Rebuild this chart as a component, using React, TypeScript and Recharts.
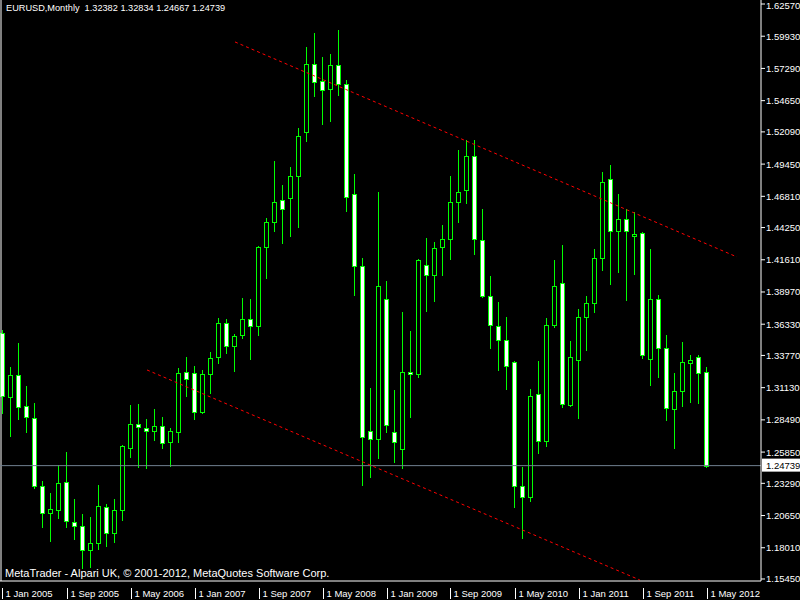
import React from 'react';
import { ComposedChart, Bar, XAxis, YAxis, ReferenceLine } from 'recharts';

// EURUSD monthly candles, Jan 2005 .. May 2012
const OPEN = [
  1.3558, 1.3039, 1.3217, 1.2963, 1.2868, 1.2307, 1.2083, 1.2110, 1.2337, 1.2012, 1.1977, 1.1783,
  1.1838, 1.2137, 1.1919, 1.2108, 1.2621, 1.2813, 1.2780, 1.2760, 1.2796, 1.2670, 1.2752, 1.3239,
  1.3230, 1.2917, 1.3222, 1.3367, 1.3640, 1.3452, 1.3542, 1.3673, 1.3621, 1.4268, 1.4468, 1.4648,
  1.4665, 1.4845, 1.5206, 1.5763, 1.5624, 1.5558, 1.5755, 1.5599, 1.4698, 1.4107, 1.2760, 1.2690,
  1.3837, 1.2747, 1.2608, 1.3239, 1.3222, 1.4121, 1.4034, 1.4263, 1.4329, 1.4632, 1.4730, 1.5009,
  1.4321, 1.3862, 1.3616, 1.3501, 1.3321, 1.2305, 1.2219, 1.3059, 1.2678, 1.3624, 1.3968, 1.2973,
  1.3337, 1.3690, 1.3804, 1.4173, 1.4820, 1.4397, 1.4493, 1.4353, 1.4378, 1.3345, 1.3837, 1.3436,
  1.2941, 1.3083, 1.3318, 1.3362, 1.32382,
];
const HIGH = [
  1.3585, 1.3285, 1.3481, 1.3127, 1.2990, 1.2346, 1.2250, 1.2479, 1.2583, 1.2200, 1.2078, 1.2053,
  1.2315, 1.2160, 1.2198, 1.2640, 1.2971, 1.2979, 1.2856, 1.2938, 1.2873, 1.2780, 1.3277, 1.3364,
  1.3290, 1.3258, 1.3403, 1.3681, 1.3673, 1.3550, 1.3848, 1.3840, 1.4274, 1.4501, 1.4970, 1.4774,
  1.4921, 1.5241, 1.5902, 1.6017, 1.5820, 1.5845, 1.6041, 1.5632, 1.4864, 1.4175, 1.3108, 1.4714,
  1.3987, 1.3094, 1.3733, 1.3577, 1.4167, 1.4339, 1.4307, 1.4446, 1.4847, 1.5061, 1.5142, 1.5142,
  1.4577, 1.4028, 1.3815, 1.3692, 1.3329, 1.2463, 1.3102, 1.3331, 1.3684, 1.4159, 1.4282, 1.3495,
  1.3758, 1.3864, 1.4249, 1.4878, 1.4938, 1.4700, 1.4575, 1.4550, 1.4390, 1.4249, 1.3872, 1.3545,
  1.3233, 1.3487, 1.3381, 1.3381, 1.32834,
];
const LOW = [
  1.2908, 1.2717, 1.2854, 1.2752, 1.2288, 1.1974, 1.1859, 1.2045, 1.1969, 1.1870, 1.1633, 1.1646,
  1.1788, 1.1815, 1.1851, 1.2028, 1.2547, 1.2465, 1.2452, 1.2684, 1.2621, 1.2471, 1.2670, 1.3045,
  1.2856, 1.2908, 1.3067, 1.3313, 1.3400, 1.3252, 1.3522, 1.3348, 1.3545, 1.4010, 1.4399, 1.4301,
  1.4358, 1.4432, 1.5137, 1.5506, 1.5276, 1.5301, 1.5514, 1.4563, 1.3875, 1.2315, 1.2383, 1.2539,
  1.2752, 1.2507, 1.2452, 1.2875, 1.3203, 1.3744, 1.3823, 1.4036, 1.4170, 1.4473, 1.4624, 1.4211,
  1.3858, 1.3438, 1.3260, 1.3104, 1.2137, 1.1880, 1.2184, 1.2580, 1.2637, 1.3612, 1.2957, 1.2963,
  1.2867, 1.3424, 1.3736, 1.4080, 1.3965, 1.4063, 1.3834, 1.4047, 1.3359, 1.3135, 1.3203, 1.2848,
  1.2621, 1.2965, 1.2998, 1.2990, 1.24667,
];
const CLOSE = [
  1.3045, 1.3217, 1.2957, 1.2870, 1.2307, 1.2083, 1.2116, 1.2329, 1.2018, 1.1979, 1.1783, 1.1838,
  1.2141, 1.1919, 1.2108, 1.2632, 1.2813, 1.2788, 1.2760, 1.2796, 1.2662, 1.2758, 1.3233, 1.3184,
  1.2917, 1.3222, 1.3354, 1.3640, 1.3452, 1.3534, 1.3673, 1.3621, 1.4263, 1.4468, 1.4632, 1.4575,
  1.4845, 1.5173, 1.5763, 1.5615, 1.5550, 1.5755, 1.5599, 1.4673, 1.4107, 1.2711, 1.2690, 1.3944,
  1.2804, 1.2665, 1.3239, 1.3222, 1.4157, 1.4034, 1.4255, 1.4329, 1.4632, 1.4714, 1.5009, 1.4329,
  1.3862, 1.3624, 1.3501, 1.3288, 1.2305, 1.2219, 1.3045, 1.2678, 1.3624, 1.3944, 1.2977, 1.3362,
  1.3690, 1.3804, 1.4173, 1.4801, 1.4397, 1.4493, 1.4397, 1.4375, 1.3383, 1.3837, 1.3436, 1.2949,
  1.3083, 1.3321, 1.3337, 1.3231, 1.24739,
];

const FIRST_YEAR = 2005;
const MONTHS = OPEN.map((_, i) => `${FIRST_YEAR + Math.floor(i / 12)}-${String((i % 12) + 1).padStart(2, '0')}`);

const TIME_TICKS = [0, 8, 16, 24, 32, 40, 48, 56, 64, 72, 80, 88];
const TIME_LABELS = [
  '1 Jan 2005', '1 Sep 2005', '1 May 2006', '1 Jan 2007', '1 Sep 2007', '1 May 2008',
  '1 Jan 2009', '1 Sep 2009', '1 May 2010', '1 Jan 2011', '1 Sep 2011', '1 May 2012',
];
const PRICE_TICKS = [
  1.6257, 1.5993, 1.5729, 1.5465, 1.5209, 1.4945, 1.4681, 1.4425, 1.4161, 1.3897,
  1.3633, 1.3377, 1.3113, 1.2849, 1.2585, 1.2329, 1.2065, 1.1801, 1.1545,
];
const LAST_PRICE = 1.24739;

// trend lines: month index (0 = Jan 2005) and price at each end
const UPPER_TREND = [{ m: 29, p: 1.5946 }, { m: 91.75, p: 1.4184 }];
const LOWER_TREND = [{ m: 18, p: 1.3258 }, { m: 79.6, p: 1.1537 }];

const FONT = '"Liberation Sans", Arial, sans-serif';
const GREEN = '#00ff00';

const data = OPEN.map((o, i) => ({
  i,
  month: MONTHS[i],
  open: o,
  high: HIGH[i],
  low: LOW[i],
  close: CLOSE[i],
  range: [LOW[i], HIGH[i]],
}));

function Candle(props: any) {
  const { x, y, width, height, payload } = props;
  if (x == null || !payload) return null;
  const { open, close, high, low } = payload;
  const top = Math.min(y, y + height);
  const h = Math.abs(height);
  const k = high === low ? 0 : h / (high - low);
  const py = (v: number) => top + (high - v) * k;
  const cx = Math.floor(x + width / 2) + 0.5;
  const bTop = Math.round(py(Math.max(open, close))) + 0.5;
  let bBot = Math.round(py(Math.min(open, close))) + 0.5;
  if (bBot - bTop < 1) bBot = bTop + 1;
  const bear = close < open;
  return (
    <g>
      <line x1={cx} x2={cx} y1={Math.round(top)} y2={Math.round(top + h) + 1} stroke={GREEN} strokeWidth={1} />
      <rect
        x={cx - 2}
        y={bTop}
        width={4}
        height={bBot - bTop}
        fill={bear ? '#ffffff' : '#000000'}
        stroke={GREEN}
        strokeWidth={1}
      />
    </g>
  );
}

function TimeTick(props: any) {
  const { x, y, payload } = props;
  const idx = TIME_TICKS.indexOf(payload.value);
  const px = Math.floor(x) + 0.5;
  return (
    <g>
      <line x1={px} x2={px} y1={y + 5} y2={y + 16} stroke="#ffffff" />
      <text x={px + 3} y={y + 14} fill="#ffffff" fontSize={9.5} fontFamily={FONT}>
        {TIME_LABELS[idx]}
      </text>
    </g>
  );
}

function PriceTick(props: any) {
  const { x, y, payload } = props;
  // keep the top label inside the picture
  const base = Math.max(y + 3.5, 9);
  return (
    <text x={x} y={base} fill="#ffffff" fontSize={9.5} fontFamily={FONT}>
      {Number(payload.value).toFixed(5)}
    </text>
  );
}

function PriceTag(props: any) {
  const vb = props.viewBox || {};
  const x0 = vb.x + vb.width + 1;
  const yy = vb.y;
  return (
    <g>
      <rect x={x0} y={yy - 7} width={39} height={13} fill="#ffffff" />
      <text x={x0 + 4} y={yy + 3.5} fill="#000000" fontSize={9.5} fontFamily={FONT}>
        {LAST_PRICE.toFixed(5)}
      </text>
    </g>
  );
}

export default function App() {
  return (
    <div style={{ position: 'fixed', left: 0, top: 0, width: 800, height: 600, background: '#000000' }}>
      <ComposedChart width={800} height={600} data={data} margin={{ top: 0, right: 0, bottom: 0, left: 0 }}>
        <XAxis
          type="number"
          dataKey="i"
          domain={[-0.375, 94.75]}
          allowDataOverflow
          ticks={TIME_TICKS}
          height={19}
          axisLine={{ stroke: '#ffffff' }}
          tickLine={false}
          tickSize={0}
          tick={<TimeTick />}
          interval={0}
        />
        <YAxis
          orientation="right"
          type="number"
          domain={[1.15285, 1.62898]}
          allowDataOverflow
          ticks={PRICE_TICKS}
          width={39}
          axisLine={{ stroke: '#ffffff' }}
          tickLine={{ stroke: '#ffffff' }}
          tickSize={4}
          tickMargin={1}
          interval={0}
          tick={<PriceTick />}
        />
        <ReferenceLine x={-0.25} stroke="#ffffff" ifOverflow="visible" />
        <ReferenceLine
          y={LAST_PRICE}
          stroke="#708090"
          strokeWidth={1}
          label={<PriceTag />}
        />
        <ReferenceLine
          segment={[{ x: UPPER_TREND[0].m, y: UPPER_TREND[0].p }, { x: UPPER_TREND[1].m, y: UPPER_TREND[1].p }]}
          stroke="#ff0000"
          strokeDasharray="3 3"
          ifOverflow="visible"
        />
        <ReferenceLine
          segment={[{ x: LOWER_TREND[0].m, y: LOWER_TREND[0].p }, { x: LOWER_TREND[1].m, y: LOWER_TREND[1].p }]}
          stroke="#ff0000"
          strokeDasharray="3 3"
          ifOverflow="visible"
        />
        <Bar dataKey="range" shape={<Candle />} isAnimationActive={false} />
      </ComposedChart>
      <div
        style={{
          position: 'absolute',
          left: 6,
          top: 2,
          color: '#ffffff',
          fontFamily: FONT,
          fontSize: 9.2,
          whiteSpace: 'pre',
          lineHeight: '12px',
        }}
      >
        {'EURUSD,Monthly  1.32382 1.32834 1.24667 1.24739'}
      </div>
      <div
        style={{
          position: 'absolute',
          left: 5,
          top: 567,
          color: '#ffffff',
          fontFamily: FONT,
          fontSize: 11,
          whiteSpace: 'pre',
          lineHeight: '13px',
        }}
      >
        {'MetaTrader - Alpari UK, \u00a9 2001-2012, MetaQuotes Software Corp.'}
      </div>
    </div>
  );
}
